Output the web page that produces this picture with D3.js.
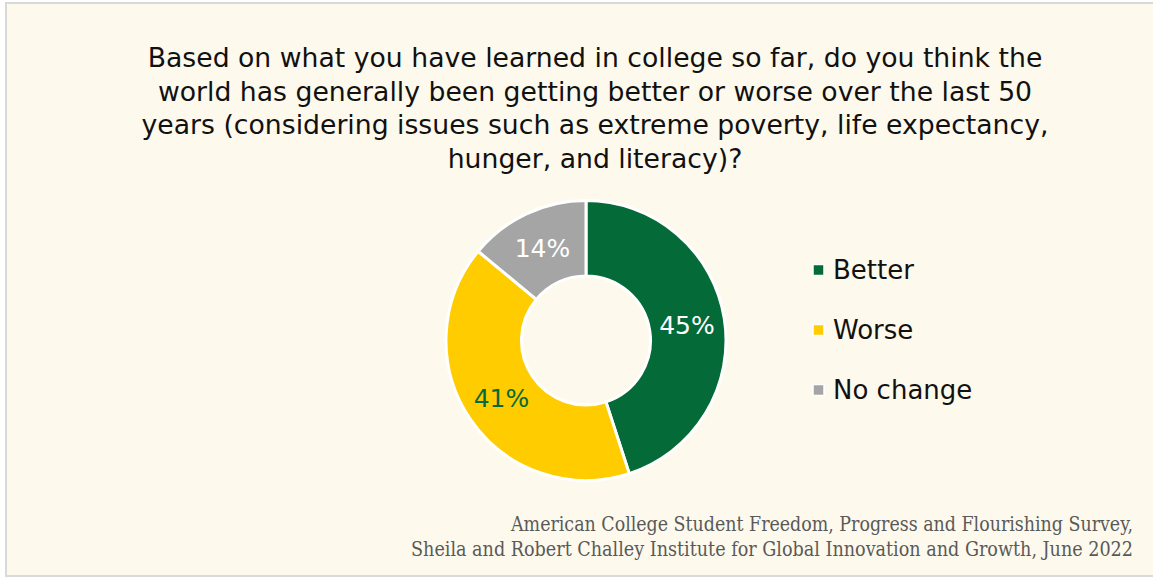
<!DOCTYPE html>
<html>
<head>
<meta charset="utf-8">
<script src="https://cdn.jsdelivr.net/npm/d3@7"></script>
<style>
  html, body { margin: 0; padding: 0; background: #ffffff; }
  svg { display: block; }
</style>
</head>
<body>
<svg id="chart" width="1153" height="578"></svg>
<script>
// Survey answers
const categories = ["Better", "Worse", "No change"];
const shares = [45, 41, 14];
const sliceColors = ["#046a38", "#ffcc00", "#a5a5a5"];
const labelColors = ["#ffffff", "#046a38", "#ffffff"];

const titleLines = [
  "Based on what you have learned in college so far, do you think the",
  "world has generally been getting better or worse over the last 50",
  "years (considering issues such as extreme poverty, life expectancy,",
  "hunger, and literacy)?"
];
const sourceLines = [
  "American College Student Freedom, Progress and Flourishing Survey,",
  "Sheila and Robert Challey Institute for Global Innovation and Growth, June 2022"
];

const W = 1153, H = 578;
const sansFont = "'DejaVu Sans', 'Noto Sans', sans-serif";
const serifFont = "'DejaVu Serif Condensed', 'DejaVu Serif', 'Liberation Serif', serif";

const svg = d3.select("#chart");

// panel background and frame
svg.append("rect")
  .attr("x", 6).attr("y", 3)
  .attr("width", W + 10).attr("height", 573)
  .attr("fill", "#fdf9ec")
  .attr("stroke", "#d9d9d9")
  .attr("stroke-width", 2);

// title, sized so the first line spans the intended width
const title = svg.append("text")
  .attr("text-anchor", "middle")
  .attr("fill", "#111111")
  .style("font-family", sansFont)
  .style("font-size", "24px");
title.selectAll("tspan")
  .data(titleLines)
  .join("tspan")
  .attr("x", 595)
  .attr("y", (d, i) => 67 + i * 33.5)
  .text(d => d);
const firstW = title.select("tspan").node().getComputedTextLength();
const titleSize = 24 * 895 / firstW;
title.style("font-size", titleSize + "px");

// donut
const cx = 586, cy = 340.5;
const outerR = 140, innerR = 64.5;

const pie = d3.pie().sort(null).value(d => d.value);
const arcs = pie(categories.map((c, i) => ({ name: c, value: shares[i] })));
const arc = d3.arc().innerRadius(innerR).outerRadius(outerR);
const labelArc = d3.arc().innerRadius((innerR + outerR) / 2).outerRadius((innerR + outerR) / 2);
const color = d3.scaleOrdinal().domain(categories).range(sliceColors);

const g = svg.append("g").attr("transform", `translate(${cx},${cy})`);
g.selectAll("path.slice")
  .data(arcs)
  .join("path")
  .attr("class", "slice")
  .attr("d", arc)
  .attr("fill", d => color(d.data.name))
  .attr("stroke", "#ffffff")
  .attr("stroke-width", 3)
  .attr("stroke-linejoin", "miter");

g.selectAll("text.pct")
  .data(arcs)
  .join("text")
  .attr("class", "pct")
  .attr("transform", d => `translate(${labelArc.centroid(d)})`)
  .attr("text-anchor", "middle")
  .attr("dy", "0.36em")
  .attr("fill", (d, i) => labelColors[i])
  .style("font-family", sansFont)
  .style("font-size", "25px")
  .style("font-weight", 400)
  .text(d => d.data.value + "%");

// legend
const legend = svg.append("g").attr("transform", "translate(813,270)");
const item = legend.selectAll("g")
  .data(categories)
  .join("g")
  .attr("transform", (d, i) => `translate(0,${i * 60})`);
item.append("rect")
  .attr("x", 0).attr("y", -5.5)
  .attr("width", 11).attr("height", 11)
  .attr("fill", d => color(d))
  .attr("stroke", "#ffffff")
  .attr("stroke-width", 1.5);
item.append("text")
  .attr("x", 20)
  .attr("y", 8.5)
  .attr("fill", "#111111")
  .style("font-family", sansFont)
  .style("font-size", "26px")
  .text(d => d);

// source note
const source = svg.append("g");
const srcWidths = [622, 722];
source.selectAll("text")
  .data(sourceLines)
  .join("text")
  .attr("x", 1133)
  .attr("y", (d, i) => 531 + i * 25)
  .attr("text-anchor", "end")
  .attr("fill", "#595959")
  .style("font-family", serifFont)
  .style("font-size", "20px")
  .attr("textLength", (d, i) => srcWidths[i])
  .attr("lengthAdjust", "spacingAndGlyphs")
  .text(d => d);
</script>
</body>
</html>
